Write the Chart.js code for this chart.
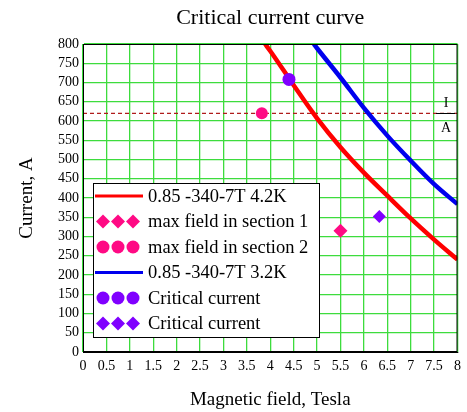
<!DOCTYPE html>
<html>
<head>
<meta charset="utf-8">
<script src="https://cdn.jsdelivr.net/npm/chart.js@4.4.1/dist/chart.umd.min.js"></script>
<style>
  html, body { margin: 0; padding: 0; background: #fff; }
  #wrap { width: 467px; height: 412px; }
</style>
</head>
<body>
<div id="wrap"><canvas id="icChart" width="467" height="412"></canvas></div>
<script>
// critical current curves, field in T and current in A
const field42 = [3.89, 4, 4.5, 5, 5.5, 6, 6.5, 7, 7.5, 8];
const current42 = [800, 782, 693, 607, 532, 466, 406, 347, 292, 240];
const field32 = [4.93, 5, 5.5, 6, 6.5, 7, 7.5, 8];
const current32 = [800, 789, 713, 634, 562, 497, 436, 384];

// operating points
const sec1Field = [5.5];
const sec1Current = [315];
const sec2Field = [3.82];
const sec2Current = [620];
const critCircleField = [4.4];
const critCircleCurrent = [708];
const critDiamondField = [6.33];
const critDiamondCurrent = [352];

// rated current (dashed line)
const ratedCurrent = 620;

const seriesNames = [
  '0.85 -340-7T 4.2K',
  'max field in section 1',
  'max field in section 2',
  '0.85 -340-7T 3.2K',
  'Critical current',
  'Critical current'
];

const xTicks = [0, 0.5, 1, 1.5, 2, 2.5, 3, 3.5, 4, 4.5, 5, 5.5, 6, 6.5, 7, 7.5, 8];
const yTicks = [0, 50, 100, 150, 200, 250, 300, 350, 400, 450, 500, 550, 600, 650, 700, 750, 800];

const serif = "'Liberation Serif', 'Times New Roman', serif";
const RED = '#ff0000', BLUE = '#0000ee', PINK = '#ff0a84', PURPLE = '#8000ff';
const GRID = '#3ddc3d';

const xy = (xs, ys) => xs.map((x, i) => ({ x: x, y: ys[i] }));

function curve(label, xs, ys, color) {
  return {
    label: label, data: xy(xs, ys), showLine: true, borderColor: color,
    backgroundColor: color, borderWidth: 4.5, pointRadius: 0,
    cubicInterpolationMode: 'monotone', order: 1
  };
}

function marker(label, xs, ys, color, style, r) {
  return {
    label: label, data: xy(xs, ys), showLine: false, pointStyle: style,
    pointRadius: r, pointBackgroundColor: color, pointBorderWidth: 0,
    backgroundColor: color, borderColor: color, order: 0
  };
}

// frame, I/A mark and the boxed legend
const overlay = {
  id: 'overlay',
  afterDatasetsDraw(chart) {
    const { ctx, chartArea: a, scales: { y } } = chart;
    ctx.save();
    ctx.strokeStyle = '#000';
    ctx.lineWidth = 1;
    ctx.strokeRect(a.left + 0.5, a.top + 0.5, a.right - a.left - 1, a.bottom - a.top - 1);

    const yd = Math.round(y.getPixelForValue(ratedCurrent)) + 0.5;
    ctx.beginPath();
    ctx.moveTo(436, yd);
    ctx.lineTo(455, yd);
    ctx.stroke();
    ctx.fillStyle = '#000';
    ctx.font = '14px ' + serif;
    ctx.textAlign = 'center';
    ctx.textBaseline = 'middle';
    ctx.fillText('I', 446, yd - 10);
    ctx.fillText('A', 446, yd + 15);

    // legend box
    const bx = 93, by = 183, bw = 226, bh = 154;
    ctx.fillStyle = '#fff';
    ctx.fillRect(bx, by, bw, bh);
    ctx.strokeRect(bx + 0.5, by + 0.5, bw, bh);

    const items = chart.data.datasets.filter(d => d.inLegend);
    ctx.font = '18.5px ' + serif;
    ctx.textAlign = 'left';
    items.forEach((d, i) => {
      const cy = by + 13 + i * 25.5;
      if (d.showLine) {
        ctx.strokeStyle = d.borderColor;
        ctx.lineWidth = 3;
        ctx.beginPath();
        ctx.moveTo(95, cy);
        ctx.lineTo(143, cy);
        ctx.stroke();
      } else {
        ctx.fillStyle = d.pointBackgroundColor;
        [103, 118, 133].forEach(px => {
          Chart.helpers.drawPoint(ctx, {
            pointStyle: d.pointStyle, radius: d.pointStyle === 'circle' ? 6.5 : 7,
            rotation: 0, borderWidth: 0
          }, px, cy);
        });
      }
      ctx.fillStyle = '#000';
      ctx.fillText(d.label, 148, cy + 1);
    });
    ctx.restore();
  }
};

const datasets = [
  curve(seriesNames[0], field42, current42, RED),
  marker(seriesNames[1], sec1Field, sec1Current, PINK, 'rectRot', 7),
  marker(seriesNames[2], sec2Field, sec2Current, PINK, 'circle', 6),
  curve(seriesNames[3], field32, current32, BLUE),
  marker(seriesNames[4], critCircleField, critCircleCurrent, PURPLE, 'circle', 6.5),
  marker(seriesNames[5], critDiamondField, critDiamondCurrent, PURPLE, 'rectRot', 6.5)
];
datasets.forEach(d => d.inLegend = true);
datasets.push({
  label: 'I/A', data: [{ x: 0, y: ratedCurrent }, { x: 8, y: ratedCurrent }],
  showLine: true, borderColor: '#b01c1c', borderWidth: 1.2, borderDash: [4, 3],
  pointRadius: 0, order: 2
});

const ctx = document.getElementById('icChart').getContext('2d');

new Chart(ctx, {
  type: 'scatter',
  data: { datasets: datasets },
  options: {
    responsive: false,
    animation: false,
    events: [],
    layout: { padding: { left: 0, right: 9, top: 0, bottom: 0 } },
    plugins: {
      legend: { display: false },
      tooltip: { enabled: false },
      title: {
        display: true,
        text: 'Critical current curve',
        fullSize: false,
        color: '#000',
        font: { family: serif, size: 22, weight: 'normal' },
        padding: { top: 5, bottom: 12.6 }
      }
    },
    scales: {
      x: {
        type: 'linear', min: 0, max: 8,
        afterBuildTicks: s => { s.ticks = xTicks.map(v => ({ value: v })); },
        afterFit: s => { s.height = 60; },
        ticks: {
          autoSkip: false, maxRotation: 0, padding: 6, color: '#000',
          font: { family: serif, size: 14 },
          callback: v => String(v)
        },
        grid: { color: GRID, lineWidth: 1.3, drawTicks: false },
        border: { color: '#000' },
        title: {
          display: true, text: 'Magnetic field, Tesla', color: '#000',
          font: { family: serif, size: 19 }, padding: { top: 0, bottom: 1 }
        }
      },
      y: {
        type: 'linear', min: 0, max: 800,
        afterBuildTicks: s => { s.ticks = yTicks.map(v => ({ value: v })); },
        afterFit: s => { s.width = 83; },
        ticks: {
          autoSkip: false, padding: 4, color: '#000',
          font: { family: serif, size: 14 },
          callback: v => String(v)
        },
        grid: { color: GRID, lineWidth: 1.3, drawTicks: false },
        border: { color: '#000' },
        title: {
          display: true, text: 'Current, A', color: '#000',
          font: { family: serif, size: 19 }, padding: { top: 16, bottom: 0 }
        }
      }
    }
  },
  plugins: [overlay]
});
</script>
</body>
</html>
